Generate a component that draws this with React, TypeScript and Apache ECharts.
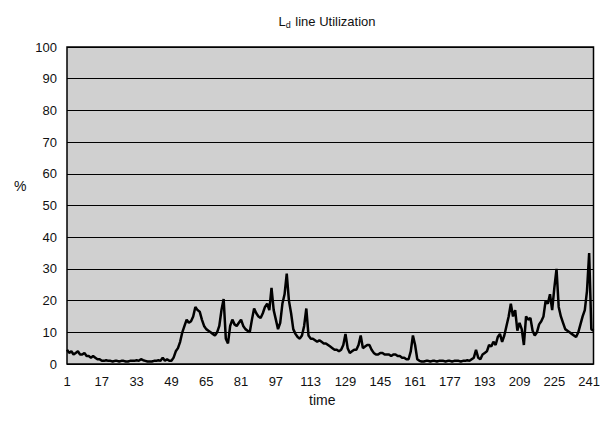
import React, { useEffect, useRef } from "react";
import * as echarts from "echarts";

const categories: string[] = Array.from({ length: 243 }, (_, i) => String(i + 1));

const utilization: number[] = [
  4.5, 3.5, 4, 3, 3.5, 4, 3, 3, 3.5, 2.5,
  2.5, 2, 2.5, 2, 1.5, 1.5, 1, 1, 1.2, 1,
  1, 0.8, 1, 1, 0.8, 1, 1, 0.8, 0.8, 1,
  1, 1, 1.2, 1, 1.5, 1.2, 1, 0.8, 0.8, 0.8,
  1, 1, 1.2, 1, 2, 1, 1.5, 1,
  1, 2, 4, 5, 7, 10, 12, 14, 13, 13.5,
  15, 18, 17, 16.5, 14, 12, 11, 10.5, 10, 9.5,
  9, 10, 12, 17, 20.5, 8, 6.5, 12, 14, 12.5,
  12, 13, 14, 12, 11, 10.5, 10, 14, 17.5, 16,
  15, 14.5, 16, 18, 19, 17, 24, 17, 14, 11,
  13, 19, 22, 28.5, 20, 16, 11, 9.5, 8.5, 8,
  9, 12, 17.5, 9, 8, 8, 7.5, 7, 7.5, 7,
  6.5, 6.5, 6, 5.5, 5, 4.5, 4.5, 4, 4.5, 6,
  9.5, 5, 3.5, 4, 4.5, 4.5, 6, 9, 5, 5.5,
  6, 6, 4.5, 3.5, 3, 3, 3.5, 3.5, 3, 3,
  3, 2.5, 3, 3, 2.5, 2.5, 2, 2, 1.5, 1.5,
  4, 9, 6, 1.5,
  1, 0.8, 0.8, 1, 1, 0.8, 1, 1, 0.8, 1,
  1, 1, 0.8, 1, 1, 0.8, 1, 1, 1, 0.8,
  1, 1, 1.2, 1, 1.5, 2,
  4.5, 2, 1.5, 3, 3.5, 4, 6, 5.5, 7, 6,
  8.5, 9.5, 7, 9, 12, 15, 19, 15, 17, 10.5,
  13, 11, 6, 15, 14, 14.5, 10.5, 9, 10, 12.5,
  13.5, 15, 20, 19, 22, 17, 24, 30, 18, 15,
  13, 11, 10.5, 10, 9.5, 9, 8.5, 10, 12.5, 15,
  17, 23, 35, 11, 10.5,
];

const yTicks = { min: 0, max: 100, interval: 10 };

export default function App() {
  const ref = useRef<HTMLDivElement>(null);
  useEffect(() => {
    if (!ref.current) return;
    const chart = echarts.init(ref.current, undefined, { renderer: "svg" });
    const font = "'Liberation Sans', Arial, sans-serif";
    chart.setOption({
      animation: false,
      backgroundColor: "#ffffff",
      textStyle: { fontFamily: font },
      title: {
        text: "{a|L}{b|d}{a| line Utilization}",
        left: 322,
        top: 9,
        textAlign: "center",
        textStyle: {
          fontWeight: "normal",
          rich: {
            a: { fontSize: 13, color: "#111", fontFamily: font, fontWeight: "normal" },
            b: { fontSize: 9, color: "#111", fontFamily: font, fontWeight: "normal", verticalAlign: "bottom", padding: [6, 1, 0, 0] },
          },
        },
      },
      grid: {
        left: 67,
        right: 9,
        top: 47,
        bottom: 66,
        show: true,
        backgroundColor: "#d0d0d0",
        borderColor: "#000",
        borderWidth: 1.5,
      },
      xAxis: {
        type: "category",
        data: categories,
        boundaryGap: false,
        axisLine: { show: false },
        axisTick: { show: false },
        axisLabel: { interval: 15, margin: 11, fontSize: 13, color: "#111", fontFamily: font },
        splitLine: { show: false },
      },
      yAxis: {
        type: "value",
        min: yTicks.min,
        max: yTicks.max,
        interval: yTicks.interval,
        axisLine: { show: false },
        axisTick: { show: false },
        axisLabel: { margin: 10, fontSize: 13, color: "#111", fontFamily: font },
        splitLine: { show: true, lineStyle: { color: "#000", width: 1 } },
      },
      graphic: [
        { type: "text", left: 14, top: 179, style: { text: "%", fontSize: 14, fill: "#111", fontFamily: font } },
        { type: "text", left: 309, top: 393, style: { text: "time", fontSize: 14, fill: "#111", fontFamily: font } },
      ],
      series: [
        {
          type: "line",
          data: utilization,
          symbol: "none",
          lineStyle: { color: "#000", width: 2.5 },
          z: 5,
        },
      ],
    });
    return () => chart.dispose();
  }, []);
  return <div ref={ref} style={{ position: "fixed", left: 0, top: 0, width: 603, height: 430 }} />;
}
